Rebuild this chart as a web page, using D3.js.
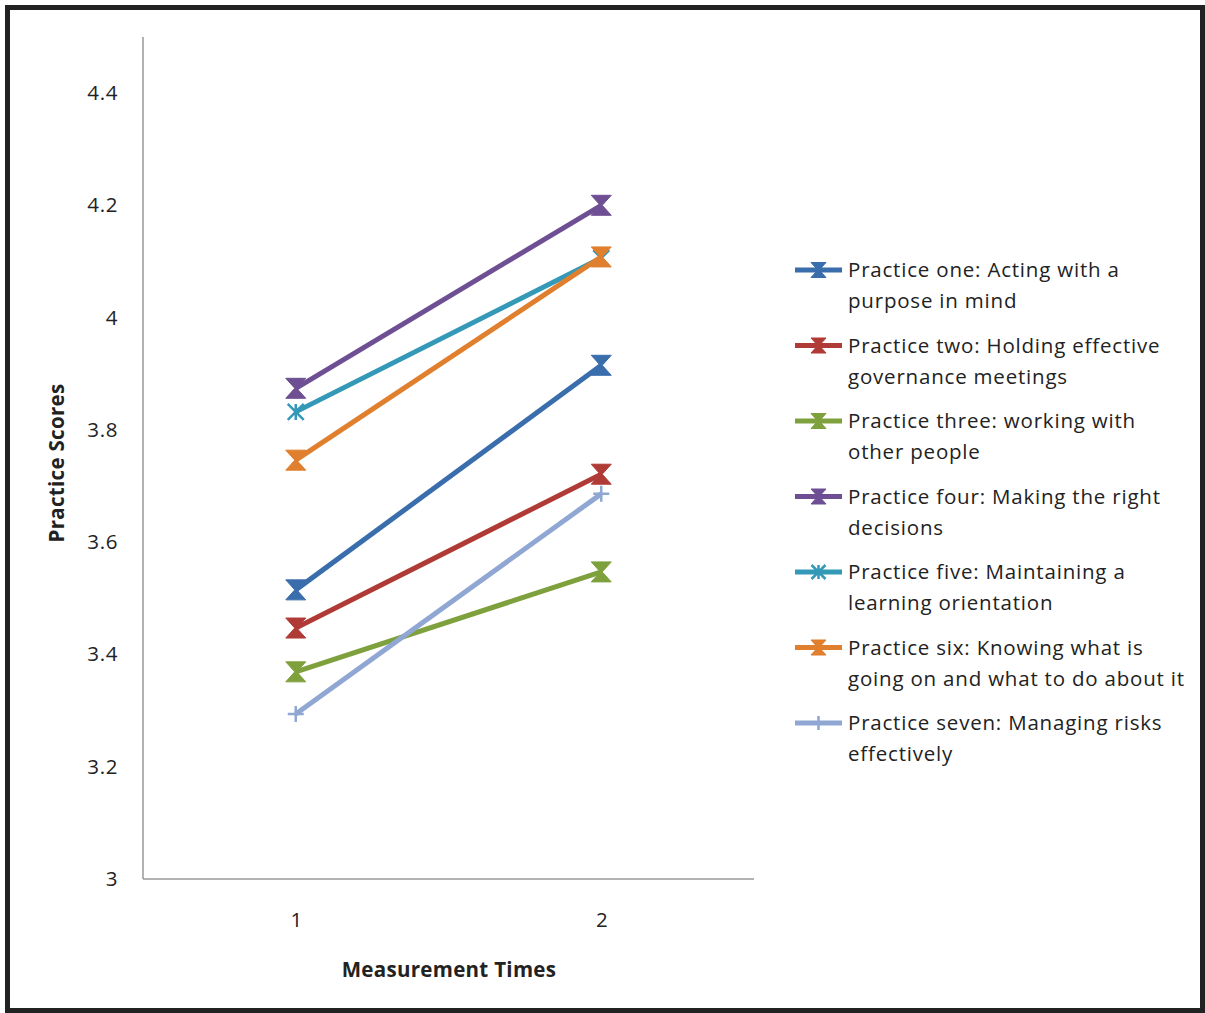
<!DOCTYPE html>
<html>
<head>
<meta charset="utf-8">
<script src="https://cdn.jsdelivr.net/npm/d3@7"></script>
<style>
  html, body { margin: 0; padding: 0; background: #fff; }
  svg text { font-family: "Open Sans", Lato, sans-serif; fill: #222; }
</style>
</head>
<body>
<svg id="chart" width="1205" height="1013"></svg>
<script>
// Measurement occasions on the x axis
const times = ["1", "2"];

// Mean practice scores at each measurement time
const seriesNames = [
  "Practice one: Acting with a purpose in mind",
  "Practice two: Holding effective governance meetings",
  "Practice three: working with other people",
  "Practice four: Making the right decisions",
  "Practice five: Maintaining a learning orientation",
  "Practice six: Knowing what is going on and what to do about it",
  "Practice seven: Managing risks effectively"
];
const legendLines = [
  ["Practice one: Acting with a", "purpose in mind"],
  ["Practice two: Holding effective", "governance meetings"],
  ["Practice three: working with", "other people"],
  ["Practice four: Making the right", "decisions"],
  ["Practice five: Maintaining a", "learning orientation"],
  ["Practice six: Knowing what is", "going on and what to do about it"],
  ["Practice seven: Managing risks", "effectively"]
];
const practiceOne   = [3.515, 3.915];
const practiceTwo   = [3.447, 3.721];
const practiceThree = [3.369, 3.547];
const practiceFour  = [3.874, 4.200];
const practiceFive  = [3.832, 4.106];
const practiceSix   = [3.746, 4.108];
const practiceSeven = [3.294, 3.686];
const seriesValues = [practiceOne, practiceTwo, practiceThree, practiceFour, practiceFive, practiceSix, practiceSeven];

const yTicks = [3, 3.2, 3.4, 3.6, 3.8, 4, 4.2, 4.4];
const yTickLabels = ["3", "3.2", "3.4", "3.6", "3.8", "4", "4.2", "4.4"];

const colors = ["#3a6dac", "#b03b36", "#7fa13d", "#6e4f93", "#3399b6", "#e07f2d", "#8fa7d2"];
const markers = ["hourglass", "hourglass", "hourglass", "hourglass", "star", "hourglass", "plus"];

const FONT = "\"Open Sans\", Lato, sans-serif";
const svg = d3.select("#chart");

// outer frame
svg.append("rect")
  .attr("x", 7.5).attr("y", 7.5)
  .attr("width", 1195).attr("height", 1003)
  .attr("fill", "none").attr("stroke", "#222").attr("stroke-width", 5);

const plot = { left: 143, right: 754, top: 37, bottom: 879 };

const x = d3.scalePoint().domain(times).range([plot.left, plot.right]).padding(0.5);
const y = d3.scaleLinear().domain([3, 4.4]).range([plot.bottom, 93]);

// axes
const yAxis = d3.axisLeft(y).tickValues(yTicks).tickSize(0).tickPadding(25)
  .tickFormat((d, i) => yTickLabels[i]);
const gy = svg.append("g").attr("transform", `translate(${plot.left},0)`).call(yAxis);
gy.select(".domain").remove();
gy.selectAll("text").style("font-size", "20.5px").style("font-family", FONT)
  .style("letter-spacing", "0.6px").attr("fill", "#222");
svg.append("line")
  .attr("x1", plot.left).attr("x2", plot.left)
  .attr("y1", plot.top).attr("y2", plot.bottom)
  .attr("stroke", "#999").attr("stroke-width", 1.5);

const xAxis = d3.axisBottom(x).tickSize(0).tickPadding(33);
const gx = svg.append("g").attr("transform", `translate(0,${plot.bottom})`).call(xAxis);
gx.select(".domain").remove();
gx.selectAll("text").style("font-size", "20.5px").style("font-family", FONT).attr("fill", "#222");
svg.append("line")
  .attr("x1", plot.left).attr("x2", plot.right)
  .attr("y1", plot.bottom).attr("y2", plot.bottom)
  .attr("stroke", "#999").attr("stroke-width", 1.5);

// axis titles
svg.append("text")
  .attr("transform", `translate(64,${(plot.top + plot.bottom) / 2 + 5}) rotate(-90)`)
  .attr("text-anchor", "middle")
  .style("font-size", "20.5px").style("font-weight", "bold").style("letter-spacing", "0.3px")
  .text("Practice Scores");
svg.append("text")
  .attr("x", 449).attr("y", 977)
  .attr("text-anchor", "middle")
  .style("font-size", "20.5px").style("font-weight", "bold").style("letter-spacing", "0.3px")
  .text("Measurement Times");

// marker shapes
function markerPath(kind, s) {
  if (kind === "hourglass") {
    return `M${-s},${-s}L${s},${-s}L${s * 0.1},0L${s},${s}L${-s},${s}L${-s * 0.1},0Z`;
  }
  if (kind === "star") {
    return `M${-s},${-s}L${s},${s}M${s},${-s}L${-s},${s}M0,${-s}L0,${s}`;
  }
  return `M${-s},0L${s},0M0,${-s}L0,${s}`;
}
function drawMarker(g, kind, cx, cy, s, color) {
  const p = g.append("path")
    .attr("transform", `translate(${cx},${cy})`)
    .attr("d", markerPath(kind, s));
  if (kind === "hourglass") {
    p.attr("fill", color).attr("stroke", color).attr("stroke-width", 1);
  } else {
    p.attr("fill", "none").attr("stroke", color).attr("stroke-width", 2.5);
  }
}

const line = d3.line().x((d, i) => x(times[i])).y(d => y(d));

seriesValues.forEach((vals, si) => {
  const g = svg.append("g").attr("class", "series");
  g.append("path")
    .attr("d", line(vals))
    .attr("fill", "none")
    .attr("stroke", colors[si])
    .attr("stroke-width", 5);
  vals.forEach((v, i) => {
    drawMarker(g, markers[si], x(times[i]), y(v), markers[si] === "hourglass" ? 10 : 8, colors[si]);
  });
});

// legend
const legend = svg.append("g").attr("class", "legend");
const legendTop = 270, legendStep = 75.5;
seriesNames.forEach((name, si) => {
  const ly = legendTop + si * legendStep;
  const g = legend.append("g");
  g.append("line")
    .attr("x1", 795).attr("x2", 842)
    .attr("y1", ly).attr("y2", ly)
    .attr("stroke", colors[si]).attr("stroke-width", 5);
  drawMarker(g, markers[si], 818.5, ly, markers[si] === "hourglass" ? 7.5 : 7, colors[si]);
  const t = g.append("text").attr("x", 848).attr("y", ly + 7)
    .style("font-size", "20.5px").style("letter-spacing", "0.8px");
  legendLines[si].forEach((ln, k) => {
    t.append("tspan").attr("x", 848).attr("dy", k === 0 ? 0 : 31).text(ln);
  });
});
</script>
</body>
</html>
